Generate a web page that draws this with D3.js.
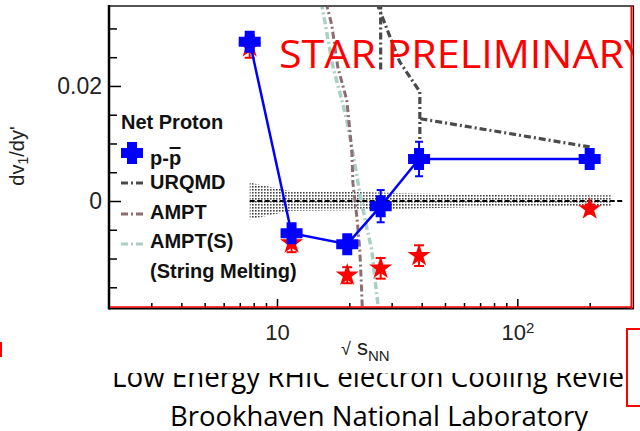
<!DOCTYPE html>
<html>
<head>
<meta charset="utf-8">
<script src="https://cdn.jsdelivr.net/npm/d3@7"></script>
<style>
  body { margin: 0; background: #fff; }
  svg { display: block; }
</style>
</head>
<body>
<div id="chart"></div>
<script>
// beam energies (GeV) and measured slopes
var energies = [7.7, 11.5, 19.6, 27, 39, 200];
var netProton = [0.0277, -0.0056, -0.0075, -0.0009, 0.0073, 0.0073];
var netProtonErr = [0.0008, 0.0008, 0.0012, 0.0028, 0.003, 0.0006];
var redStar = [0.0268, -0.0073, -0.0129, -0.0117, -0.0095, -0.0014];
var redStarErr = [0.0019, 0.0016, 0.0014, 0.0018, 0.0018, 0.0008];

// systematic band around zero
var bandE = [7.7, 11.5, 19.6, 27, 39, 62.4, 130, 245];
var bandHalf = [0.0032, 0.0017, 0.0016, 0.0015, 0.0013, 0.0011, 0.001, 0.001];
var zeroLineE = [7.7, 278];

// model curves
var urqmdE1 = [27, 27], urqmdV1 = [0.0345, 0.0224];
var urqmdE2 = [26, 32.4, 39.3, 39.3], urqmdV2 = [0.0345, 0.0242, 0.019, 0.0106];
var urqmdE3 = [39.5, 100, 200], urqmdV3 = [0.0143, 0.0115, 0.0094];
var amptE = [16.0, 16.9, 17.9, 19.5, 20.1, 20.5, 20.7, 21.5, 22.1, 22.5, 22.7];
var amptV = [0.0345, 0.0306, 0.0233, 0.0176, 0.0123, 0.0083, 0.0031, -0.0028, -0.0085, -0.0155, -0.02];
var amptSE = [15.3, 17.1, 18.6, 19.5, 20.7, 22.1, 23.6, 24.8, 25.5, 26.3, 26.5];
var amptSV = [0.0345, 0.0233, 0.0176, 0.0141, 0.0083, 0.0014, -0.0045, -0.0085, -0.0132, -0.018, -0.02];

var yMajor = [0, 0.02], yLabels = ["0", "0.02"];
var yMinor = [-0.015, -0.01, -0.005, 0.005, 0.01, 0.015, 0.025, 0.03];
var xMajor = [10, 100];
var xMinor = [3, 4, 5, 6, 7, 8, 9, 20, 30, 40, 50, 60, 70, 80, 90, 200];

var legendNames = ["URQMD", "AMPT", "AMPT(S)"];
var legendColors = ["#4a4a4a", "#8c6d72", "#a9d0c6"];

var width = 640, height = 431;
var frame = {left: 109, top: 6, right: 632, bottom: 308};

var x = d3.scaleLog().domain([2, 300]).range([frame.left, frame.right]);
var y = d3.scaleLinear().domain([-0.0186, 0.0339]).range([frame.bottom, frame.top]);

var svg = d3.select("#chart").append("svg")
    .attr("width", width)
    .attr("height", height);

var defs = svg.append("defs");
defs.append("clipPath").attr("id", "plotclip")
  .append("rect")
    .attr("x", frame.left).attr("y", frame.top)
    .attr("width", frame.right - frame.left).attr("height", frame.bottom - frame.top);
defs.append("clipPath").attr("id", "starclip")
  .append("rect").attr("x", 0).attr("y", 0).attr("width", 633).attr("height", 300);
var pat = defs.append("pattern").attr("id", "dots")
    .attr("width", 3).attr("height", 3).attr("patternUnits", "userSpaceOnUse");
pat.append("rect").attr("width", 3).attr("height", 3).attr("fill", "#fff");
pat.append("rect").attr("width", 1.6).attr("height", 1.6).attr("fill", "#444");

svg.append("rect").attr("width", width).attr("height", height).attr("fill", "#fff");

// slide text behind the chart picture
var slideFont = "'Open Sans', 'Liberation Sans', sans-serif";
svg.append("text")
    .attr("x", 112).attr("y", 387)
    .attr("textLength", 512).attr("lengthAdjust", "spacingAndGlyphs")
    .style("font", "29px " + slideFont).attr("fill", "#000")
    .text("Low Energy RHIC electron Cooling Revie");
svg.append("text")
    .attr("x", 170).attr("y", 426)
    .attr("textLength", 418).attr("lengthAdjust", "spacingAndGlyphs")
    .style("font", "28px " + slideFont).attr("fill", "#000")
    .text("Brookhaven National Laboratory");
svg.append("rect").attr("x", 3).attr("y", 0).attr("width", 623).attr("height", 373).attr("fill", "#fff");
svg.append("rect").attr("x", 0).attr("y", 342).attr("width", 2).attr("height", 15).attr("fill", "#f00");
svg.append("rect").attr("x", 627).attr("y", 329).attr("width", 20).attr("height", 77)
    .attr("fill", "#fff").attr("stroke", "#f00").attr("stroke-width", 2);

var plot = svg.append("g").attr("clip-path", "url(#plotclip)");

// band + zero line
var bandData = bandE.map(function(e, i) { return {e: e, h: bandHalf[i]}; });
plot.append("path")
    .datum(bandData)
    .attr("d", d3.area()
      .x(function(d) { return x(d.e); })
      .y0(function(d) { return y(-d.h); })
      .y1(function(d) { return y(d.h); }))
    .attr("fill", "url(#dots)");
plot.append("line")
    .attr("x1", x(zeroLineE[0])).attr("x2", x(zeroLineE[1]))
    .attr("y1", y(0)).attr("y2", y(0))
    .attr("stroke", "#000").attr("stroke-width", 2).attr("stroke-dasharray", "5,2.5");

var line = d3.line()
    .x(function(d) { return x(d[0]); })
    .y(function(d) { return y(d[1]); });
function pairs(a, b) { return a.map(function(v, i) { return [v, b[i]]; }); }

// models
plot.append("path").datum(pairs(amptSE, amptSV)).attr("d", line)
    .attr("fill", "none").attr("stroke", legendColors[2]).attr("stroke-width", 3.5)
    .attr("stroke-dasharray", "7,3,2,3");
plot.append("path").datum(pairs(amptE, amptV)).attr("d", line)
    .attr("fill", "none").attr("stroke", legendColors[1]).attr("stroke-width", 3)
    .attr("stroke-dasharray", "7,3,2,3");
[pairs(urqmdE1, urqmdV1), pairs(urqmdE2, urqmdV2), pairs(urqmdE3, urqmdV3)].forEach(function(p) {
  plot.append("path").datum(p).attr("d", line)
      .attr("fill", "none").attr("stroke", legendColors[0]).attr("stroke-width", 3.2)
      .attr("stroke-dasharray", "7,3,2,3");
});

function errorBars(g, vals, errs, color, cap) {
  energies.forEach(function(e, i) {
    var cx = x(e), y0 = y(vals[i] - errs[i]), y1 = y(vals[i] + errs[i]);
    g.append("line").attr("x1", cx).attr("x2", cx).attr("y1", y0).attr("y2", y1)
        .attr("stroke", color).attr("stroke-width", 2);
    [y0, y1].forEach(function(yy) {
      g.append("line").attr("x1", cx - cap).attr("x2", cx + cap).attr("y1", yy).attr("y2", yy)
          .attr("stroke", color).attr("stroke-width", 2);
    });
  });
}

// red stars
var redG = svg.append("g");
errorBars(redG, redStar, redStarErr, "#f00", 5);
redG.selectAll("path.star")
    .data(energies)
    .enter().append("path")
    .attr("class", "star")
    .attr("d", d3.symbol(d3.symbolStar, 165))
    .attr("transform", function(d, i) { return "translate(" + x(d) + "," + y(redStar[i]) + ")"; })
    .attr("fill", "#f00");

// net proton
var crossPath = "M-11,-5H-5V-11H5V-5H11V5H5V11H-5V5H-11Z";
var blueG = svg.append("g");
blueG.append("path").datum(pairs(energies, netProton)).attr("d", line)
    .attr("fill", "none").attr("stroke", "#0000ff").attr("stroke-width", 2.5);
errorBars(blueG, netProton, netProtonErr, "#0000ff", 4);
blueG.selectAll("path.cross")
    .data(energies)
    .enter().append("path")
    .attr("class", "cross")
    .attr("d", crossPath)
    .attr("transform", function(d, i) { return "translate(" + x(d) + "," + y(netProton[i]) + ")"; })
    .attr("fill", "#0000ff");

// axes
var axisFont = "'Liberation Sans', Arial, sans-serif";
function styleAxis(g) {
  g.select(".domain").remove();
  g.selectAll(".tick line").attr("stroke", "#000").attr("stroke-width", 1.5);
  g.selectAll("text").style("font", "23px " + axisFont).attr("fill", "#222");
}
svg.append("g").attr("transform", "translate(" + frame.left + ",0)")
    .call(d3.axisLeft(y).tickValues(yMajor).tickSizeInner(-12).tickSizeOuter(0).tickPadding(7)
      .tickFormat(function(d, i) { return yLabels[i]; }))
    .call(styleAxis);
svg.append("g").attr("transform", "translate(" + frame.left + ",0)")
    .call(d3.axisLeft(y).tickValues(yMinor).tickSizeInner(-8).tickSizeOuter(0).tickFormat(""))
    .call(styleAxis);
var xAxisG = svg.append("g").attr("transform", "translate(0," + frame.bottom + ")")
    .call(d3.axisBottom(x).tickValues(xMajor).tickSizeInner(-9).tickSizeOuter(0).tickPadding(16)
      .tickFormat(function() { return "10"; }))
    .call(styleAxis);
xAxisG.selectAll("text").style("font-size", "22px")
    .each(function(d) {
      if (d === 100) {
        d3.select(this).append("tspan").attr("dy", "-0.45em").style("font-size", "15px").text("2");
      }
    });
svg.append("g").attr("transform", "translate(0," + frame.bottom + ")")
    .call(d3.axisBottom(x).tickValues(xMinor).tickSizeInner(-5).tickSizeOuter(0).tickFormat(""))
    .call(styleAxis);

// frame
svg.append("line").attr("x1", frame.left).attr("x2", 634).attr("y1", frame.top).attr("y2", frame.top)
    .attr("stroke", "#555").attr("stroke-width", 2);
svg.append("line").attr("x1", frame.left).attr("x2", frame.left).attr("y1", frame.top - 1).attr("y2", 309.5)
    .attr("stroke", "#000").attr("stroke-width", 2.5);
svg.append("line").attr("x1", frame.left).attr("x2", 634).attr("y1", 308.5).attr("y2", 308.5)
    .attr("stroke", "#000").attr("stroke-width", 2);
svg.append("line").attr("x1", 110).attr("x2", 632).attr("y1", 307).attr("y2", 307)
    .attr("stroke", "#f00").attr("stroke-width", 1.5);
svg.append("line").attr("x1", 633.5).attr("x2", 633.5).attr("y1", frame.top).attr("y2", 309)
    .attr("stroke", "#000").attr("stroke-width", 1.2);
svg.append("line").attr("x1", 631.5).attr("x2", 631.5).attr("y1", frame.top).attr("y2", 309)
    .attr("stroke", "#f00").attr("stroke-width", 2);

// axis titles
var xt = svg.append("text").attr("x", 341).attr("y", 355)
    .style("font", "22px " + axisFont).attr("fill", "#222");
xt.append("tspan").style("font-size", "18px").text("\u221A");
xt.append("tspan").text(" s");
xt.append("tspan").attr("dy", 6).style("font-size", "15px").text("NN");

var yt = svg.append("text").attr("transform", "translate(24,156) rotate(-90)")
    .attr("text-anchor", "middle")
    .style("font", "20px " + axisFont).attr("fill", "#222");
yt.append("tspan").text("dv");
yt.append("tspan").attr("dy", 4).style("font-size", "14px").text("1");
yt.append("tspan").attr("dy", -4).text("/dy'");

// legend
var legFont = "bold 20px " + axisFont;
svg.append("text").attr("x", 121).attr("y", 129).style("font", legFont).attr("fill", "#111").text("Net Proton");
svg.append("path").attr("d", crossPath).attr("transform", "translate(132,153)").attr("fill", "#0000ff");
var pp = svg.append("text").attr("x", 150).attr("y", 165).style("font", legFont).attr("fill", "#111").text("p-p");
var ppLen = pp.node().getComputedTextLength();
svg.append("line").attr("x1", 150 + ppLen - 11.5).attr("x2", 150 + ppLen - 0.5)
    .attr("y1", 148).attr("y2", 148).attr("stroke", "#111").attr("stroke-width", 2);
var legY = [183, 214, 244], legTextY = [189, 219, 248];
legendNames.forEach(function(n, i) {
  svg.append("line").attr("x1", 121).attr("x2", 143).attr("y1", legY[i]).attr("y2", legY[i])
      .attr("stroke", legendColors[i]).attr("stroke-width", 3).attr("stroke-dasharray", "7,3,2,3");
  svg.append("text").attr("x", 150).attr("y", legTextY[i]).style("font", legFont).attr("fill", "#111").text(n);
});
svg.append("text").attr("x", 150).attr("y", 278).style("font", legFont).attr("fill", "#111").text("(String Melting)");

// preliminary label
svg.append("text")
    .attr("clip-path", "url(#starclip)")
    .attr("x", 279).attr("y", 68)
    .attr("textLength", 368).attr("lengthAdjust", "spacingAndGlyphs")
    .style("font", "39px " + slideFont).attr("fill", "#f00")
    .text("STAR PRELIMINARY");
</script>
</body>
</html>
